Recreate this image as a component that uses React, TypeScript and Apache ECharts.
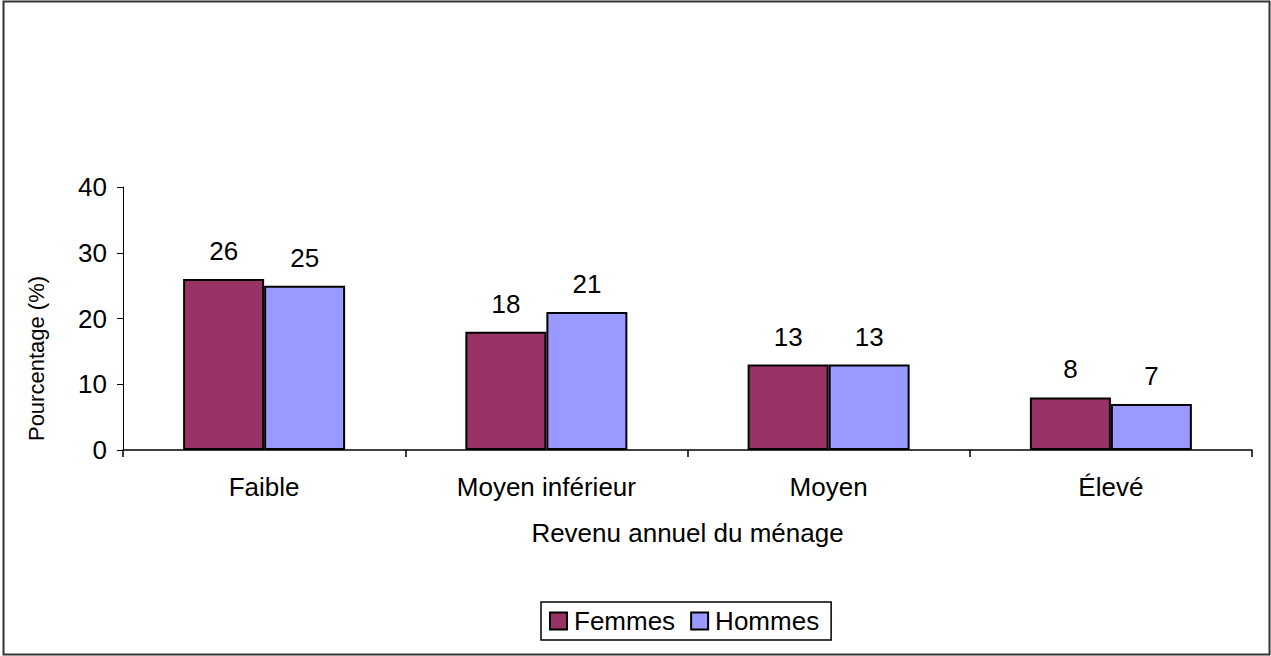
import React, { useEffect, useRef } from "react";
import * as echarts from "echarts";

const categories = ["Faible", "Moyen inférieur", "Moyen", "Élevé"];
const femmes = [26, 18, 13, 8];
const hommes = [25, 21, 13, 7];
const yTicks = { min: 0, max: 40, interval: 10 };

const FONT = "'Liberation Sans', Arial, sans-serif";
const FS = 26;

export default function App() {
  const ref = useRef<HTMLDivElement>(null);
  useEffect(() => {
    if (!ref.current) return;
    const chart = echarts.init(ref.current, null, { renderer: "svg" });
    const labelStyle = {
      show: true,
      position: "top" as const,
      distance: 15,
      color: "#000",
      fontSize: FS,
      fontFamily: FONT,
    };
    chart.setOption({
      animation: false,
      backgroundColor: "#fff",
      textStyle: { fontFamily: FONT },
      graphic: [
        {
          type: "rect",
          shape: { x: 3.5, y: 1.5, width: 1266, height: 653 },
          style: { fill: "none", stroke: "#333", lineWidth: 2 },
          silent: true,
        },
      ],
      grid: { left: 123, right: 19, top: 187, bottom: 206 },
      legend: {
        top: 602,
        left: 541,
        itemWidth: 17,
        itemHeight: 17,
        itemGap: 15,
        padding: [6, 12, 6, 8],
        borderColor: "#000",
        borderWidth: 1.5,
        borderRadius: 0,
        textStyle: { fontSize: FS, color: "#000", fontFamily: FONT, padding: [0, 0, 0, 2] },
        data: [
          { name: "Femmes", icon: "rect", itemStyle: { borderColor: "#000", borderWidth: 2 } },
          { name: "Hommes", icon: "rect", itemStyle: { borderColor: "#000", borderWidth: 2 } },
        ],
      },
      xAxis: {
        type: "category",
        data: categories,
        name: "Revenu annuel du ménage",
        nameLocation: "middle",
        nameGap: 70,
        nameTextStyle: { fontSize: FS, color: "#000", fontFamily: FONT },
        axisLine: { lineStyle: { color: "#000", width: 1.5 } },
        axisTick: { show: true, length: 7, lineStyle: { color: "#000", width: 1.5 } },
        axisLabel: { fontSize: FS, color: "#000", margin: 24, fontFamily: FONT },
        splitLine: { show: false },
      },
      yAxis: {
        type: "value",
        min: yTicks.min,
        max: yTicks.max,
        interval: yTicks.interval,
        name: "Pourcentage (%)",
        nameLocation: "middle",
        nameGap: 76,
        nameRotate: 90,
        nameTextStyle: {
          fontSize: 22,
          color: "#000",
          fontFamily: FONT,
          padding: [0, 80, 0, 0],
        },
        axisLine: { show: true, lineStyle: { color: "#000", width: 1 } },
        axisTick: { show: true, length: 6, lineStyle: { color: "#000" } },
        axisLabel: { fontSize: FS, color: "#000", margin: 16, fontFamily: FONT },
        splitLine: { show: false },
      },
      series: [
        {
          name: "Femmes",
          type: "bar",
          data: femmes,
          barGap: "0%",
          barCategoryGap: "42.6%",
          itemStyle: { color: "#993366", borderColor: "#000", borderWidth: 2 },
          label: labelStyle,
        },
        {
          name: "Hommes",
          type: "bar",
          data: hommes,
          itemStyle: { color: "#9999FF", borderColor: "#000", borderWidth: 2 },
          label: labelStyle,
        },
      ],
    });
    return () => chart.dispose();
  }, []);
  return (
    <div
      ref={ref}
      style={{ position: "fixed", left: 0, top: 0, width: 1271, height: 656 }}
    />
  );
}
